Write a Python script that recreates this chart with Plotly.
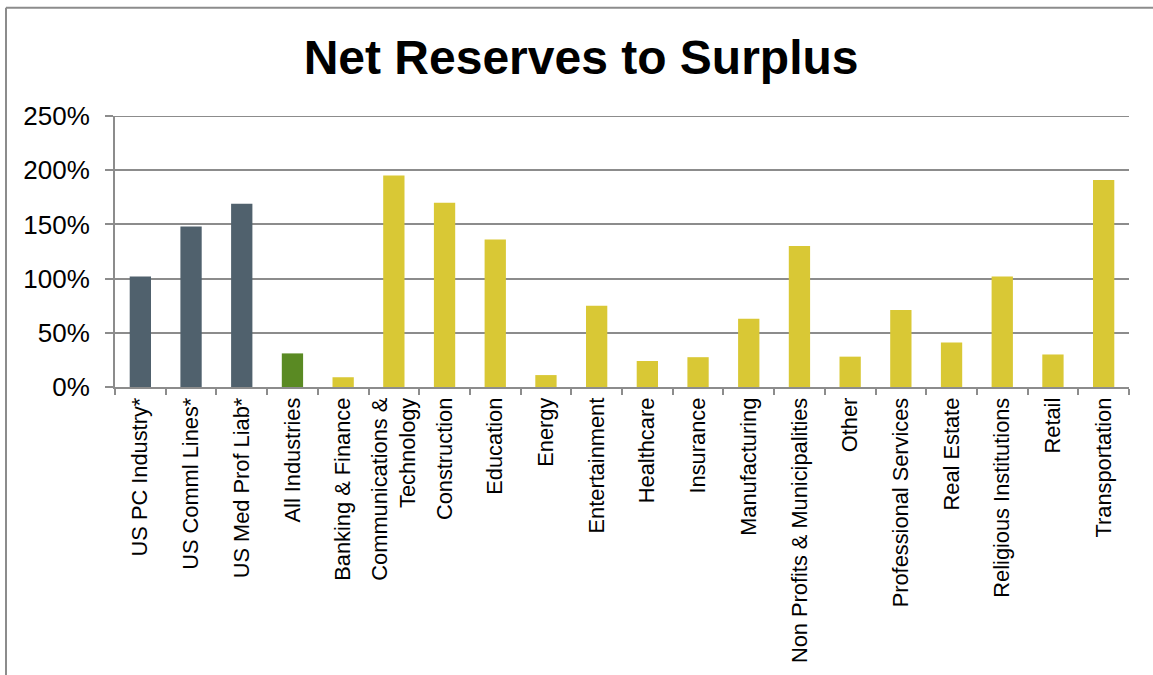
import plotly.graph_objects as go

categories = [
    "US PC Industry*", "US Comml Lines*", "US Med Prof Liab*", "All Industries",
    "Banking & Finance", "Communications &<br>Technology", "Construction", "Education",
    "Energy", "Entertainment", "Healthcare", "Insurance", "Manufacturing",
    "Non Profits & Municipalities", "Other", "Professional Services", "Real Estate",
    "Religious Institutions", "Retail", "Transportation",
]
values = [1.02, 1.48, 1.69, 0.31, 0.09, 1.95, 1.70, 1.36, 0.11, 0.75, 0.24, 0.275,
          0.63, 1.30, 0.28, 0.71, 0.41, 1.02, 0.30, 1.91]
groups = ["benchmark"] * 3 + ["all"] + ["industry"] * 16
group_colors = {"benchmark": "#50616D", "all": "#5A8A23", "industry": "#D9C835"}

y_ticks = [0, 0.5, 1.0, 1.5, 2.0, 2.5]
y_tick_text = ["0%", "50%", "100%", "150%", "200%", "250%"]
y_max = 2.5

W, H = 1153, 675
L, R, T, B = 115, 24, 116, 286

fig = go.Figure(
    go.Bar(
        x=categories,
        y=values,
        marker=dict(color=[group_colors[g] for g in groups], line=dict(width=0)),
        width=0.42,
    )
)

fig.update_layout(
    width=W,
    height=H,
    margin=dict(l=L, r=R, t=T, b=B, pad=0),
    paper_bgcolor="white",
    plot_bgcolor="white",
    font=dict(family="Liberation Sans, Arial, sans-serif", color="black"),
    title=dict(
        text="<b>Net Reserves to Surplus</b>",
        x=0.504,
        xanchor="center",
        y=1 - 57 / H,
        yanchor="middle",
        font=dict(size=48, color="black"),
    ),
    showlegend=False,
)

fig.update_xaxes(
    tickangle=-90,
    tickfont=dict(size=21.8),
    showgrid=False,
    showline=True,
    linecolor="#8C8C8C",
    linewidth=2,
    ticks="outside",
    tickson="boundaries",
    ticklen=6,
    tickcolor="#8C8C8C",
    tickwidth=2,
)

fig.update_yaxes(
    range=[0, y_max],
    tickvals=y_ticks,
    ticktext=y_tick_text,
    tickfont=dict(size=26),
    ticklabelstandoff=10,
    showgrid=True,
    gridcolor="#8C8C8C",
    gridwidth=2,
    showline=True,
    linecolor="#8C8C8C",
    linewidth=2,
    ticks="outside",
    ticklen=8,
    tickcolor="#8C8C8C",
    tickwidth=2,
    zeroline=False,
)

# top gridline at the axis maximum
fig.add_shape(type="line", xref="paper", yref="y",
              x0=0, x1=1, y0=y_max, y1=y_max,
              line=dict(color="#8C8C8C", width=2), layer="below")

# outer chart frame (left and top edges)
px_x = lambda p: (p - L) / (W - L - R)
px_y = lambda p: (H - B - p) / (H - T - B)
fig.add_shape(type="line", xref="paper", yref="paper",
              x0=px_x(6), x1=px_x(W + 20), y0=px_y(7), y1=px_y(7),
              line=dict(color="#8C8C8C", width=2))
fig.add_shape(type="line", xref="paper", yref="paper",
              x0=px_x(6), x1=px_x(6), y0=px_y(7), y1=px_y(H + 20),
              line=dict(color="#8C8C8C", width=2))

fig.write_html("out.html")
